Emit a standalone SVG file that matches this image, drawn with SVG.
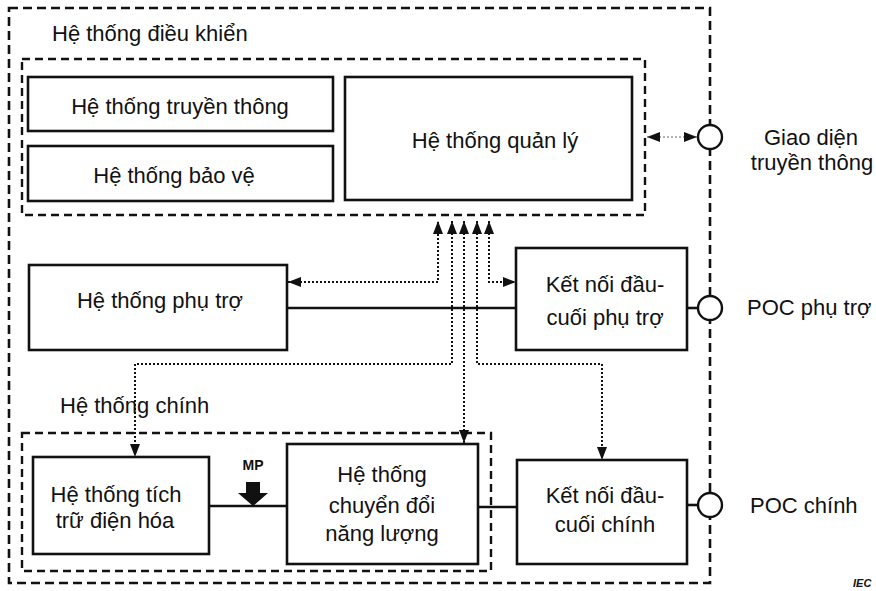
<svg xmlns="http://www.w3.org/2000/svg" width="876" height="591" viewBox="0 0 876 591">
<defs>
<style>
.t{font-family:"Liberation Sans",Arial,sans-serif;font-size:22px;fill:#111}
.m{text-anchor:middle}
.box{fill:#fff;stroke:#111;stroke-width:2.6}
.dash{fill:none;stroke:#111;stroke-width:2.6;stroke-dasharray:9 5}
.idash{fill:none;stroke:#111;stroke-width:2.4;stroke-dasharray:8 5}
.dot{fill:none;stroke:#111;stroke-width:2;stroke-dasharray:2 2}
.solid{fill:none;stroke:#111;stroke-width:2.6}
.poc{fill:#fff;stroke:#111;stroke-width:2.4}
</style>
<marker id="ah" markerUnits="userSpaceOnUse" markerWidth="13" markerHeight="10" viewBox="0 0 13 10" refX="13" refY="5" orient="auto-start-reverse">
<path d="M0,0 L13,5 L0,10 z" fill="#111"/>
</marker>
</defs>
<rect width="876" height="591" fill="#fff"/>

<g id="outer">
<rect class="dash" x="9" y="8" width="701" height="575"/>
</g>

<g id="control-system">
<rect class="idash" x="22" y="59" width="623" height="156"/>
<text class="t" x="52" y="41">Hệ thống điều khiển</text>
</g>

<g id="communication-system">
<rect class="box" x="28" y="77" width="305" height="54"/>
<text class="t m" x="180" y="114">Hệ thống truyền thông</text>
</g>

<g id="protection-system">
<rect class="box" x="28" y="146" width="305" height="55"/>
<text class="t m" x="174" y="183">Hệ thống bảo vệ</text>
</g>

<g id="management-system">
<rect class="box" x="345" y="77" width="287" height="123"/>
<text class="t m" x="495" y="148">Hệ thống quản lý</text>
</g>

<g id="auxiliary-system">
<rect class="box" x="29" y="265" width="258" height="85"/>
<text class="t m" x="160" y="308">Hệ thống phụ trợ</text>
</g>

<g id="aux-terminal">
<rect class="box" x="516" y="248" width="171" height="102"/>
<text class="t m" x="605" y="292">Kết nối đầu-</text>
<text class="t m" x="605" y="325">cuối phụ trợ</text>
</g>

<g id="main-system">
<rect class="idash" x="22" y="433" width="469" height="138"/>
<text class="t" x="60" y="413">Hệ thống chính</text>
</g>

<g id="storage-system">
<rect class="box" x="33" y="457" width="176" height="97"/>
<text class="t m" x="116" y="502">Hệ thống tích</text>
<text class="t m" x="115" y="528">trữ điện hóa</text>
</g>

<g id="conversion-system">
<rect class="box" x="287" y="444" width="191" height="120"/>
<text class="t m" x="382" y="482">Hệ thống</text>
<text class="t m" x="382" y="513">chuyển đổi</text>
<text class="t m" x="382" y="541">năng lượng</text>
</g>

<g id="main-terminal">
<rect class="box" x="517" y="460" width="170" height="104"/>
<text class="t m" x="605" y="503">Kết nối đầu-</text>
<text class="t m" x="605" y="532">cuối chính</text>
</g>

<g id="connectors">
<path class="solid" d="M287,308 H516"/>
<path class="solid" d="M687,308 H698"/>
<path class="solid" d="M209,506 H287"/>
<path class="solid" d="M478,507 H517"/>
<path class="solid" d="M687,505 H698"/>
<path class="dot" d="M288,282 H438 V221" marker-start="url(#ah)" marker-end="url(#ah)"/>
<path class="dot" d="M452,221 V364 H135 V457" marker-start="url(#ah)" marker-end="url(#ah)"/>
<path class="dot" d="M464,221 V443" marker-start="url(#ah)" marker-end="url(#ah)"/>
<path class="dot" d="M477,221 V364 H602 V460" marker-start="url(#ah)" marker-end="url(#ah)"/>
<path class="dot" d="M489,221 V282 H516" marker-start="url(#ah)" marker-end="url(#ah)"/>
<path d="M647,137 H697" fill="none" stroke="#999" stroke-width="1.5" stroke-dasharray="2 2" marker-start="url(#ah)" marker-end="url(#ah)"/>
</g>

<g id="mp">
<path d="M246,482 H260 V493 H268 L253,506 L238,493 H246 z" fill="#111"/>
<text x="253" y="470" text-anchor="middle" font-family="Liberation Sans,Arial,sans-serif" font-size="14" font-weight="bold" fill="#111">MP</text>
</g>

<g id="comm-interface">
<circle class="poc" cx="710" cy="137" r="12"/>
<text class="t m" x="811" y="145">Giao diện</text>
<text class="t m" x="812" y="170">truyền thông</text>
</g>

<g id="poc-aux">
<circle class="poc" cx="710" cy="308" r="12"/>
<text class="t" x="747" y="315">POC phụ trợ</text>
</g>

<g id="poc-main">
<circle class="poc" cx="710" cy="505" r="12"/>
<text class="t" x="750" y="513">POC chính</text>
</g>

<text x="853" y="587" font-family="Liberation Sans,Arial,sans-serif" font-size="11" font-weight="bold" font-style="italic" fill="#111">IEC</text>
</svg>
